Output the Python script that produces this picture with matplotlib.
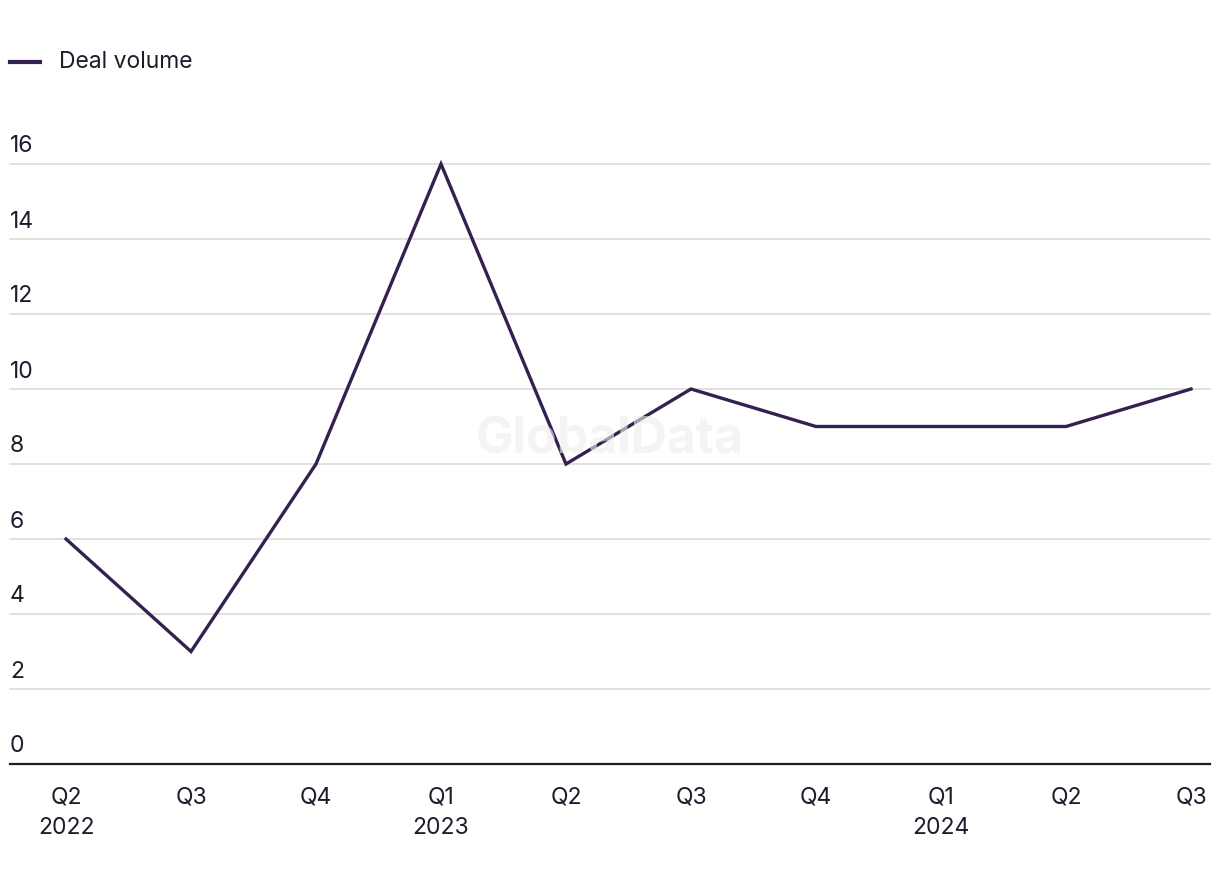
import matplotlib
matplotlib.use("Agg")
import matplotlib.pyplot as plt
import matplotlib.transforms as mtransforms

plt.rcParams['font.family'] = ['Inter', 'DejaVu Sans']

quarters = ["Q2\n2022", "Q3", "Q4", "Q1\n2023", "Q2", "Q3", "Q4", "Q1\n2024", "Q2", "Q3"]
deal_volume = [6, 3, 8, 16, 8, 10, 9, 9, 9, 10]
y_ticks = [0, 2, 4, 6, 8, 10, 12, 14, 16]

line_color = "#35214f"
text_color = "#1c1c2b"
fs = 16.5

fig = plt.figure(figsize=(12.2, 8.84), dpi=100)
ax = fig.add_axes([10 / 1220, 120 / 884, 1200 / 1220, 600 / 884])

x = list(range(len(quarters)))
ax.plot(x, deal_volume, color=line_color, lw=2.4, clip_on=False, zorder=3,
        solid_joinstyle="miter")

ax.set_xlim(-56 / 125, len(quarters) - 1 + 19 / 125)
ax.set_ylim(0, 16)

# gridlines
for v in y_ticks[1:]:
    ax.axhline(v, color="#d9d9d9", lw=1.1, zorder=1, clip_on=False)
ax.axhline(0, color=text_color, lw=1.6, zorder=2, clip_on=False)

# y labels sit above their gridline, left aligned
trans = mtransforms.blended_transform_factory(ax.transAxes, ax.transData)
offset = mtransforms.ScaledTranslation(0, 6.5 / 100, fig.dpi_scale_trans)
for v in y_ticks:
    ax.text(0, v, str(v), transform=trans + offset, ha="left", va="bottom",
            fontsize=fs, color=text_color)

ax.set_xticks(x)
ax.set_xticklabels(quarters, fontsize=fs, color=text_color, linespacing=1.5)
ax.tick_params(axis="x", length=0, pad=16)
ax.set_yticks([])
for s in ax.spines.values():
    s.set_visible(False)

# watermark
fig.text(610 / 1220, 1 - 440 / 884, "GlobalData", ha="center", va="center",
         fontsize=36, fontweight="bold", color="#eeeeee", alpha=0.6, zorder=5)

# legend
fig.add_artist(plt.Line2D([10 / 1220, 40 / 1220], [1 - 62 / 884] * 2,
                          color=line_color, lw=3, transform=fig.transFigure))
fig.text(59 / 1220, 1 - 62 / 884, "Deal volume", ha="left", va="center",
         fontsize=fs, color=text_color)

fig.savefig("out.png", dpi=100)
